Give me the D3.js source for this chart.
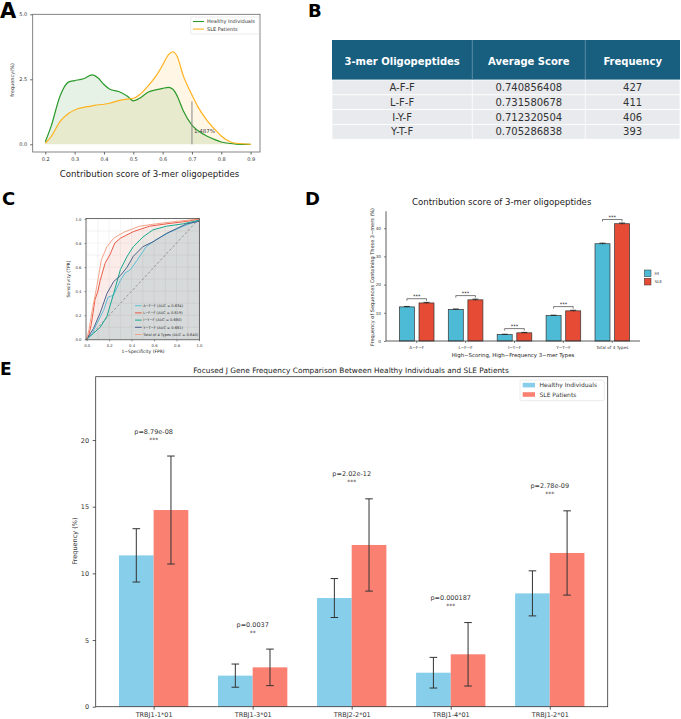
<!DOCTYPE html>
<html>
<head>
<meta charset="utf-8">
<script src="https://cdn.jsdelivr.net/npm/d3@7"></script>
<style>
  body { margin: 0; background: #fff; }
  svg { display: block; }
  text { font-family: "DejaVu Sans", sans-serif; }
</style>
</head>
<body>
<svg width="681" height="719"></svg>
<script>
// ---------- data ----------
// A: density of contribution scores
const scoreGrid = [0.2, 0.22, 0.25, 0.28, 0.3, 0.33, 0.36, 0.38, 0.4, 0.42, 0.45, 0.48, 0.5, 0.52, 0.55, 0.58, 0.6, 0.62, 0.635, 0.65, 0.67, 0.7, 0.72, 0.75, 0.78, 0.8, 0.83, 0.85, 0.9];
const healthyDens = [0.1, 0.7, 1.85, 2.4, 2.45, 2.52, 2.67, 2.55, 2.3, 2.12, 2.03, 1.85, 1.67, 1.76, 2.0, 2.1, 2.15, 2.19, 2.12, 1.85, 1.3, 0.74, 0.53, 0.32, 0.17, 0.09, 0.03, 0.01, 0];
const sleDens = [0.04, 0.3, 0.87, 1.19, 1.32, 1.42, 1.48, 1.52, 1.54, 1.58, 1.68, 1.74, 1.77, 1.9, 2.24, 2.67, 3.05, 3.45, 3.56, 3.37, 2.65, 1.9, 1.45, 0.94, 0.55, 0.32, 0.1, 0.04, 0];
const threshold = 0.7;
const thresholdLabel = "1.487%";

// B: table
const tableHeader = ["3-mer Oligopeptides", "Average Score", "Frequency"];
const tablePeptides = ["A-F-F", "L-F-F", "I-Y-F", "Y-T-F"];
const tableScores = ["0.740856408", "0.731580678", "0.712320504", "0.705286838"];
const tableFreq = ["427", "411", "406", "393"];

// C: ROC curves
const rocNames = ["A−F−F (AUC = 0.634)", "L−F−F (AUC = 0.819)", "I−Y−F (AUC = 0.680)", "Y−T−F (AUC = 0.661)", "Total of 4 Types (AUC = 0.840)"];
const rocColors = ["#4DBBD5", "#E64B35", "#00A087", "#3C5488", "#F39B7F"];
const rocFpr = [
  [0, 0.05, 0.09, 0.15, 0.19, 0.22, 0.24, 0.3, 0.34, 0.39, 0.45, 0.53, 0.62, 0.74, 0.86, 1],
  [0, 0.02, 0.04, 0.074, 0.1, 0.12, 0.163, 0.21, 0.25, 0.3, 0.415, 0.56, 0.71, 0.89, 1],
  [0, 0.06, 0.12, 0.18, 0.24, 0.3, 0.36, 0.415, 0.5, 0.59, 0.71, 0.86, 1],
  [0, 0.06, 0.12, 0.18, 0.24, 0.3, 0.36, 0.415, 0.5, 0.59, 0.71, 0.8, 0.89, 1],
  [0, 0.02, 0.045, 0.09, 0.13, 0.18, 0.24, 0.33, 0.47, 0.62, 0.8, 1]
];
const rocTpr = [
  [0, 0.05, 0.13, 0.24, 0.35, 0.36, 0.37, 0.49, 0.55, 0.58, 0.66, 0.77, 0.83, 0.89, 0.94, 0.99],
  [0, 0.04, 0.12, 0.33, 0.4, 0.49, 0.63, 0.71, 0.8, 0.84, 0.895, 0.94, 0.96, 0.98, 1],
  [0, 0.05, 0.1, 0.19, 0.38, 0.58, 0.69, 0.77, 0.85, 0.91, 0.94, 0.96, 0.99],
  [0, 0.09, 0.22, 0.38, 0.48, 0.53, 0.6, 0.69, 0.77, 0.81, 0.88, 0.92, 0.96, 0.98],
  [0, 0.08, 0.22, 0.44, 0.66, 0.77, 0.84, 0.89, 0.94, 0.96, 0.98, 1]
];

// D: grouped bars
const motifs = ["A−F−F", "L−F−F", "I−Y−F", "Y−T−F", "Total of 4 Types"];
const hiFreq = [12.1, 11.2, 2.3, 9.0, 34.5];
const sleFreq = [13.5, 14.6, 2.9, 10.7, 41.6];
const hiErr = [0.15, 0.15, 0.1, 0.15, 0.2];
const sleErr = [0.2, 0.25, 0.15, 0.2, 0.25];

// E: J gene frequencies
const genes = ["TRBJ1-1*01", "TRBJ1-3*01", "TRBJ2-2*01", "TRBJ1-4*01", "TRBJ1-2*01"];
const hiMean = [11.35, 2.33, 8.15, 2.55, 8.5];
const sleMean = [14.75, 2.95, 12.13, 3.93, 11.53];
const hiSd = [2.0, 0.87, 1.46, 1.15, 1.69];
const sleSd = [4.05, 1.37, 3.46, 2.38, 3.16];
const pLabels = ["p=8.79e-08", "p=0.0037", "p=2.02e-12", "p=0.000187", "p=2.78e-09"];
const stars = ["***", "**", "***", "***", "***"];

const svg = d3.select("svg");

function panelLetter(t, x, y, size) {
  svg.append("text").attr("x", x).attr("y", y).text(t)
    .attr("font-family", "'Liberation Sans', Arial, sans-serif")
    .attr("font-weight", "bold").attr("font-size", size).attr("fill", "#000");
}

// ---------- A ----------
panelLetter("A", 0, 18, 21);
const ax = d3.scaleLinear().domain([0.157, 0.932]).range([32.7, 260]);
const ay = d3.scaleLinear().domain([0, 5]).range([144.3, 14.3]);
const gA = svg.append("g");

function densArea(vals) {
  return d3.area().x((d, i) => ax(scoreGrid[i])).y0(ay(0)).y1(d => ay(d)).curve(d3.curveMonotoneX)(vals);
}
function densLine(vals) {
  return d3.line().x((d, i) => ax(scoreGrid[i])).y(d => ay(d)).curve(d3.curveMonotoneX)(vals);
}
gA.append("path").attr("d", densArea(healthyDens)).attr("fill", "green").attr("fill-opacity", 0.1);
gA.append("path").attr("d", densArea(sleDens)).attr("fill", "orange").attr("fill-opacity", 0.1);
gA.append("path").attr("d", densLine(healthyDens)).attr("fill", "none").attr("stroke", "#2a9a2a").attr("stroke-width", 1.2);
gA.append("path").attr("d", densLine(sleDens)).attr("fill", "none").attr("stroke", "#ffb21f").attr("stroke-width", 1.2);

const ti = d3.bisectLeft(scoreGrid, threshold);
gA.append("line").attr("x1", ax(threshold)).attr("x2", ax(threshold))
  .attr("y1", ay(0)).attr("y2", ay(sleDens[ti] - 0.25))
  .attr("stroke", "#888").attr("stroke-width", 1);
gA.append("text").attr("x", ax(threshold) + 2).attr("y", ay(0.45)).text(thresholdLabel)
  .attr("font-size", 5.5).attr("fill", "#444");

gA.append("rect").attr("x", 32.7).attr("y", 14.3).attr("width", 260 - 32.7).attr("height", 152 - 14.3)
  .attr("fill", "none").attr("stroke", "#666").attr("stroke-width", 0.8);

const axA = gA.append("g").attr("transform", "translate(32.7,0)")
  .call(d3.axisLeft(ay).tickValues([0, 2.5, 5]).tickFormat(d3.format(".1f")).tickSize(2.5));
const bxA = gA.append("g").attr("transform", "translate(0,152)")
  .call(d3.axisBottom(ax).tickValues([0.2, 0.3, 0.4, 0.5, 0.6, 0.7, 0.8, 0.9]).tickFormat(d3.format(".1f")).tickSize(2.5));
[axA, bxA].forEach(g => {
  g.select(".domain").remove();
  g.selectAll("text").attr("font-size", 5).attr("fill", "#333").attr("font-family", "DejaVu Sans");
  g.selectAll("line").attr("stroke", "#666");
});
gA.append("text").attr("transform", "translate(14,80) rotate(-90)").attr("text-anchor", "middle")
  .text("frequency(%)").attr("font-size", 5).attr("fill", "#333");
gA.append("text").attr("x", 149.5).attr("y", 177).attr("text-anchor", "middle")
  .text("Contribution score of 3-mer oligopeptides")
  .attr("font-family", "'Noto Sans', sans-serif").attr("font-size", 8.6).attr("fill", "#222");

// legend A
gA.append("rect").attr("x", 190.7).attr("y", 17).attr("width", 68.3).attr("height", 17)
  .attr("fill", "#fff").attr("fill-opacity", 0.8).attr("stroke", "#ddd").attr("stroke-width", 0.6).attr("rx", 1);
[["Healthy Individuals", "#2a9a2a"], ["SLE Patients", "#ffb21f"]].forEach((e, i) => {
  const yy = 21.5 + i * 7.6;
  gA.append("line").attr("x1", 193).attr("x2", 204).attr("y1", yy).attr("y2", yy).attr("stroke", e[1]).attr("stroke-width", 1.1);
  gA.append("text").attr("x", 207).attr("y", yy + 1.8).text(e[0]).attr("font-size", 5).attr("fill", "#333");
});

// ---------- B ----------
panelLetter("B", 308, 17, 18);
const gB = svg.append("g");
const colEdges = [332, 472.3, 585.3, 680];
const headTop = 40, headBot = 80, rowH = 14.8;
gB.append("rect").attr("x", colEdges[0]).attr("y", headTop).attr("width", colEdges[3] - colEdges[0])
  .attr("height", headBot - headTop).attr("fill", "#175e7f");
const rows = tablePeptides.map((p, i) => [p, tableScores[i], tableFreq[i]]);
rows.forEach((r, i) => {
  gB.append("rect").attr("x", colEdges[0]).attr("y", headBot + i * rowH).attr("width", colEdges[3] - colEdges[0])
    .attr("height", rowH).attr("fill", "#e8eaed").attr("stroke", "#fff").attr("stroke-width", 0.8);
});
[1, 2].forEach(k => {
  gB.append("line").attr("x1", colEdges[k]).attr("x2", colEdges[k]).attr("y1", headTop).attr("y2", headBot)
    .attr("stroke", "#6d95ad").attr("stroke-width", 0.8);
  gB.append("line").attr("x1", colEdges[k]).attr("x2", colEdges[k]).attr("y1", headBot).attr("y2", headBot + 4 * rowH)
    .attr("stroke", "#fff").attr("stroke-width", 0.8);
});
tableHeader.forEach((h, k) => {
  gB.append("text").attr("x", (colEdges[k] + colEdges[k + 1]) / 2).attr("y", 65).attr("text-anchor", "middle")
    .text(h).attr("font-family", "'Open Sans', sans-serif").attr("font-weight", "bold")
    .attr("font-size", 10).attr("fill", "#fff");
});
rows.forEach((r, i) => {
  r.forEach((c, k) => {
    gB.append("text").attr("x", (colEdges[k] + colEdges[k + 1]) / 2).attr("y", headBot + i * rowH + 11)
      .attr("text-anchor", "middle").text(c).attr("font-family", "'Open Sans', sans-serif")
      .attr("font-size", 10).attr("fill", "#333");
  });
});

// ---------- C ----------
panelLetter("C", 2, 205, 18);
const cx = d3.scaleLinear().domain([0, 1]).range([86.7, 199]);
const cy = d3.scaleLinear().domain([0, 1]).range([339.3, 219]);
const gC = svg.append("g");
gC.append("rect").attr("x", 86).attr("y", 218.5).attr("width", 113.6).attr("height", 121.3).attr("fill", "#fff");
d3.range(0, 1.01, 0.1).forEach(v => {
  gC.append("line").attr("x1", cx(v)).attr("x2", cx(v)).attr("y1", cy(0)).attr("y2", cy(1)).attr("stroke", "#e6e6e6").attr("stroke-width", 0.5);
  gC.append("line").attr("y1", cy(v)).attr("y2", cy(v)).attr("x1", cx(0)).attr("x2", cx(1)).attr("stroke", "#e6e6e6").attr("stroke-width", 0.5);
});
rocFpr.forEach((f, k) => {
  const pts = f.map((v, i) => [v, rocTpr[k][i]]);
  gC.append("path").attr("d", d3.area().x(d => cx(d[0])).y0(cy(0)).y1(d => cy(d[1]))(pts))
    .attr("fill", rocColors[k]).attr("fill-opacity", 0.065);
});
gC.append("line").attr("x1", cx(0)).attr("y1", cy(0)).attr("x2", cx(1)).attr("y2", cy(1))
  .attr("stroke", "#777").attr("stroke-width", 0.7).attr("stroke-dasharray", "2.5,2");
rocFpr.forEach((f, k) => {
  const pts = f.map((v, i) => [v, rocTpr[k][i]]);
  gC.append("path").attr("d", d3.line().x(d => cx(d[0])).y(d => cy(d[1])).curve(d3.curveLinear)(pts))
    .attr("fill", "none").attr("stroke", rocColors[k]).attr("stroke-width", 0.9);
});
gC.append("rect").attr("x", 86).attr("y", 218.5).attr("width", 113.6).attr("height", 121.3)
  .attr("fill", "none").attr("stroke", "#333").attr("stroke-width", 0.7);
const ayC = gC.append("g").attr("transform", "translate(86,0)")
  .call(d3.axisLeft(cy).tickValues([0, 0.2, 0.4, 0.6, 0.8, 1]).tickFormat(d3.format(".1f")).tickSize(1.5));
const bxC = gC.append("g").attr("transform", "translate(0,339.8)")
  .call(d3.axisBottom(cx).tickValues([0, 0.2, 0.4, 0.6, 0.8, 1]).tickFormat(d3.format(".1f")).tickSize(1.5));
[ayC, bxC].forEach(g => {
  g.select(".domain").remove();
  g.selectAll("text").attr("font-size", 3.8).attr("fill", "#333").attr("font-family", "'Liberation Sans', Arial");
  g.selectAll("line").attr("stroke", "#333").attr("stroke-width", 0.5);
});
gC.append("text").attr("transform", "translate(70,279) rotate(-90)").attr("text-anchor", "middle")
  .text("Sensitivity (TPR)").attr("font-size", 4.5).attr("fill", "#222").attr("font-family", "'Liberation Sans', Arial");
gC.append("text").attr("x", 143).attr("y", 353).attr("text-anchor", "middle")
  .text("1−Specificity (FPR)").attr("font-size", 4.5).attr("fill", "#222").attr("font-family", "'Liberation Sans', Arial");
rocNames.forEach((n, k) => {
  const yy = 305.7 + k * 7.2;
  gC.append("line").attr("x1", 135).attr("x2", 141.7).attr("y1", yy).attr("y2", yy).attr("stroke", rocColors[k]).attr("stroke-width", 0.9);
  gC.append("text").attr("x", 143.3).attr("y", yy + 1.3).text(n).attr("font-size", 3.6).attr("fill", "#333")
    .attr("font-family", "'Liberation Sans', Arial");
});

// ---------- D ----------
panelLetter("D", 305, 205, 18);
const gD = svg.append("g");
const dx = d3.scaleBand().domain(motifs).range([392.25, 636.75]);
const dy = d3.scaleLinear().domain([0, 46]).range([341, 211.3]);
const barW = 15, off = 9.8;
const dColors = ["#4DBBD5", "#E64B35"];
gD.append("text").attr("x", 501.7).attr("y", 205).attr("text-anchor", "middle")
  .text("Contribution score of 3-mer oligopeptides")
  .attr("font-family", "'Noto Sans', sans-serif").attr("font-size", 8.6).attr("fill", "#222");
motifs.forEach((m, i) => {
  const c = dx(m) + dx.bandwidth() / 2;
  [[hiFreq[i], hiErr[i], -off], [sleFreq[i], sleErr[i], off]].forEach((b, j) => {
    gD.append("rect").attr("x", c + b[2] - barW / 2).attr("y", dy(b[0])).attr("width", barW)
      .attr("height", dy(0) - dy(b[0])).attr("fill", dColors[j]).attr("stroke", "#333").attr("stroke-width", 0.7);
    gD.append("line").attr("x1", c + b[2]).attr("x2", c + b[2]).attr("y1", dy(b[0] - b[1])).attr("y2", dy(b[0] + b[1]))
      .attr("stroke", "#111").attr("stroke-width", 0.7);
    gD.append("line").attr("x1", c + b[2] - 3).attr("x2", c + b[2] + 3).attr("y1", dy(b[0] + b[1])).attr("y2", dy(b[0] + b[1]))
      .attr("stroke", "#111").attr("stroke-width", 0.8);
  });
  const by = dy(Math.max(hiFreq[i], sleFreq[i]) + 1.5);
  gD.append("path").attr("d", `M${c - off},${by + 2}V${by}H${c + off}V${by + 2}`)
    .attr("fill", "none").attr("stroke", "#222").attr("stroke-width", 0.6);
  gD.append("text").attr("x", c).attr("y", by - 0.8).attr("text-anchor", "middle").text("***")
    .attr("font-size", 5).attr("fill", "#222").attr("font-family", "'Liberation Sans', Arial");
});
const ayD = gD.append("g").attr("transform", "translate(386,0)")
  .call(d3.axisLeft(dy).tickValues([0, 10, 20, 30, 40]).tickSize(2));
const bxD = gD.append("g").attr("transform", "translate(0,341)")
  .call(d3.axisBottom(dx).tickSize(2));
ayD.select(".domain").attr("d", `M0,${dy(46)}V${dy(0)}`);
bxD.select(".domain").attr("d", "M386,0H640");
[ayD, bxD].forEach(g => {
  g.select(".domain").attr("stroke", "#333").attr("stroke-width", 0.8);
  g.selectAll("text").attr("font-size", 4.2).attr("fill", "#333").attr("font-family", "'Liberation Sans', Arial");
  g.selectAll(".tick line").attr("stroke", "#333").attr("stroke-width", 0.6);
});
gD.append("text").attr("x", 513).attr("y", 356.5).attr("text-anchor", "middle")
  .text("High−Scoring, High−Frequency 3−mer Types").attr("font-size", 5.4).attr("fill", "#222")
  .attr("font-family", "'Liberation Sans', Arial");
gD.append("text").attr("transform", "translate(373.5,277) rotate(-90)").attr("text-anchor", "middle")
  .text("Frequency of Sequences Containing These 3−mers (%)").attr("font-size", 5).attr("fill", "#222")
  .attr("font-family", "'Liberation Sans', Arial");
[["HI", dColors[0]], ["SLE", dColors[1]]].forEach((e, i) => {
  gD.append("rect").attr("x", 644.3).attr("y", 270 + i * 8.3).attr("width", 6.7).attr("height", 6.7)
    .attr("fill", e[1]).attr("stroke", "#333").attr("stroke-width", 0.5);
  gD.append("text").attr("x", 654.5).attr("y", 275 + i * 8.3).text(e[0]).attr("font-size", 4.2)
    .attr("fill", "#333").attr("font-family", "'Liberation Sans', Arial");
});

// ---------- E ----------
panelLetter("E", 0, 375, 17);
const gE = svg.append("g");
const ex = d3.scaleLinear().domain([-0.585, 4.585]).range([95.7, 607.7]);
const ey = d3.scaleLinear().domain([0, 24.75]).range([706.7, 376.7]);
const eW = ex(0.35) - ex(0);
const eColors = ["#87CEEB", "#FA8072"];
gE.append("text").attr("x", 351).attr("y", 373).attr("text-anchor", "middle")
  .text("Focused J Gene Frequency Comparison Between Healthy Individuals and SLE Patients")
  .attr("font-size", 7.4).attr("fill", "#222");
genes.forEach((g, i) => {
  [[hiMean[i], hiSd[i], -0.175], [sleMean[i], sleSd[i], 0.175]].forEach((b, j) => {
    const bx = ex(i + b[2]);
    gE.append("rect").attr("x", bx - eW / 2).attr("y", ey(b[0])).attr("width", eW)
      .attr("height", ey(0) - ey(b[0])).attr("fill", eColors[j]);
  });
});
genes.forEach((g, i) => {
  [[hiMean[i], hiSd[i], -0.175], [sleMean[i], sleSd[i], 0.175]].forEach(b => {
    const bx = ex(i + b[2]);
    gE.append("line").attr("x1", bx).attr("x2", bx).attr("y1", ey(b[0] - b[1])).attr("y2", ey(b[0] + b[1]))
      .attr("stroke", "#333").attr("stroke-width", 1);
    [b[0] - b[1], b[0] + b[1]].forEach(v => {
      gE.append("line").attr("x1", bx - 3.8).attr("x2", bx + 3.8).attr("y1", ey(v)).attr("y2", ey(v))
        .attr("stroke", "#333").attr("stroke-width", 1);
    });
  });
  const top = Math.max(hiMean[i] + hiSd[i], sleMean[i] + sleSd[i]);
  gE.append("text").attr("x", ex(i)).attr("y", ey(top) - 22.5).attr("text-anchor", "middle")
    .text(pLabels[i]).attr("font-size", 6.5).attr("fill", "#333");
  gE.append("text").attr("x", ex(i)).attr("y", ey(top) - 14.5).attr("text-anchor", "middle")
    .text(stars[i]).attr("font-size", 6).attr("fill", "#333");
});
gE.append("rect").attr("x", 95.7).attr("y", 376.7).attr("width", 607.7 - 95.7).attr("height", 706.7 - 376.7)
  .attr("fill", "none").attr("stroke", "#333").attr("stroke-width", 0.8);
const ayE = gE.append("g").attr("transform", "translate(95.7,0)")
  .call(d3.axisLeft(ey).tickValues([0, 5, 10, 15, 20]).tickSize(3));
const bxE = gE.append("g").attr("transform", "translate(0,706.7)")
  .call(d3.axisBottom(ex).tickValues(d3.range(genes.length)).tickFormat(i => genes[i]).tickSize(3));
[ayE, bxE].forEach(g => {
  g.select(".domain").remove();
  g.selectAll("text").attr("font-size", 6.5).attr("fill", "#333").attr("font-family", "DejaVu Sans");
  g.selectAll("line").attr("stroke", "#333").attr("stroke-width", 0.8);
});
ayE.selectAll("text").attr("dx", "-0.1em");
gE.append("text").attr("transform", "translate(77,541) rotate(-90)").attr("text-anchor", "middle")
  .text("Frequency (%)").attr("font-size", 6.5).attr("fill", "#333");
gE.append("rect").attr("x", 520).attr("y", 380).attr("width", 84.3).attr("height", 20.7)
  .attr("fill", "#fff").attr("stroke", "#ddd").attr("stroke-width", 0.6).attr("rx", 1.5);
[["Healthy Individuals", eColors[0]], ["SLE Patients", eColors[1]]].forEach((e, i) => {
  const yy = 385.3 + i * 9.4;
  gE.append("rect").attr("x", 522.7).attr("y", yy - 2.5).attr("width", 12.3).attr("height", 4.6).attr("fill", e[1]);
  gE.append("text").attr("x", 539.5).attr("y", yy + 2).text(e[0]).attr("font-size", 6).attr("fill", "#333");
});
</script>
</body>
</html>
